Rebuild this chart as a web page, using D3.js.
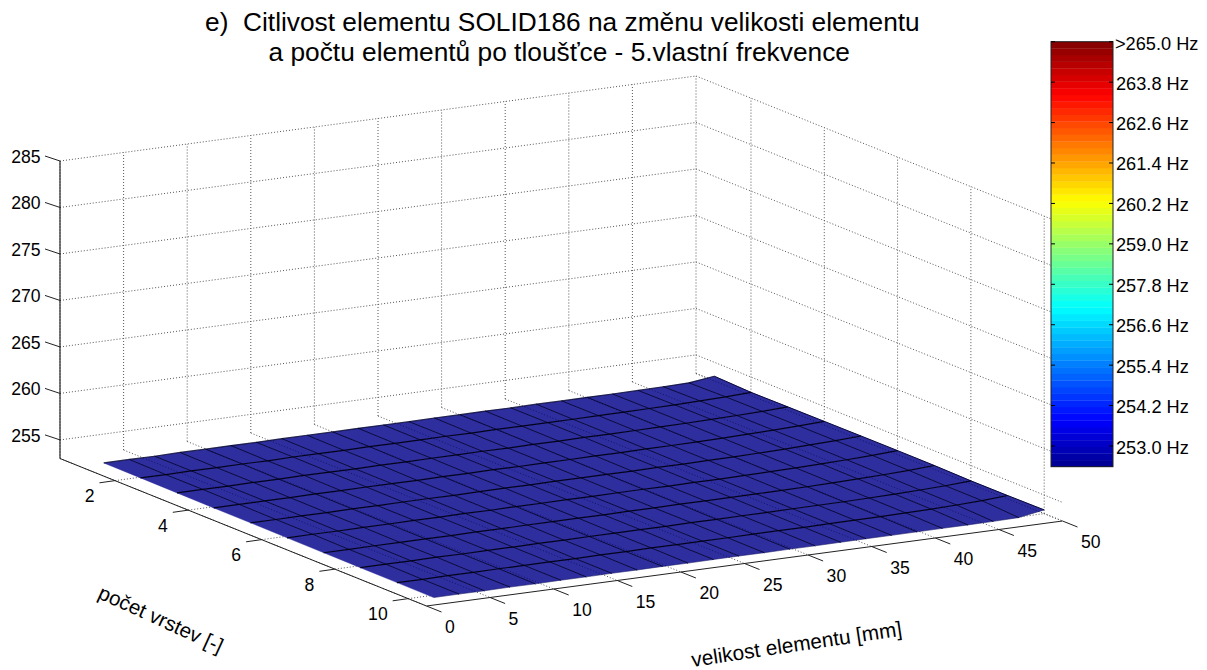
<!DOCTYPE html>
<html><head><meta charset="utf-8">
<script src="https://cdn.jsdelivr.net/npm/d3@7/dist/d3.min.js"></script>
<style>html,body{margin:0;padding:0;background:#fff}svg{display:block}text{font-family:"Liberation Sans",Arial,sans-serif;fill:#000;white-space:pre}</style>
</head><body><svg id="c" width="1207" height="670"></svg>
<script>
const titleLines = ["e)  Citlivost elementu SOLID186 na změnu velikosti elementu", "a počtu elementů po tloušťce - 5.vlastní frekvence"];
const xLabel = "velikost elementu [mm]";
const yLabel = "počet vrstev [-]";
const xTicks = [0,5,10,15,20,25,30,35,40,45,50];
const yTicks = [2,4,6,8,10];
const zTicks = [255,260,265,270,275,280,285];
const cbTicks = [253.0,254.2,255.4,256.6,257.8,259.0,260.2,261.4,262.6,263.8,265.0];
const xValues = [2,4,6,8,10,12,14,16,18,20,22,24,26,28,30,32,34,36,38,40,42,44,46,48,50];
const yValues = [1,2,3,4,5,6,7,8,9,10];
const zRows = [
 [252.95,252.96,252.94,252.98,252.97,252.99,252.97,253.00,253.00,252.99,253.02,253.01,253.00,253.03,253.02,253.04,253.02,253.05,253.04,253.06,253.05,253.07,253.10,253.16,253.50],
 [252.93,252.91,252.95,252.94,252.96,252.94,252.98,252.97,252.96,253.00,252.98,253.00,253.02,252.99,253.02,253.01,253.03,253.02,253.05,253.06,253.08,253.11,253.16,253.24,253.35],
 [252.90,252.92,252.90,252.93,252.91,252.95,252.94,252.93,252.97,252.95,252.97,252.96,252.99,252.97,253.00,252.99,253.02,253.01,253.03,253.05,253.08,253.12,253.18,253.26,253.38],
 [252.87,252.89,252.90,252.88,252.91,252.90,252.93,252.92,252.91,252.95,252.93,252.96,252.94,252.97,252.96,252.98,252.97,253.00,253.00,253.03,253.07,253.12,253.19,253.28,253.40],
 [252.86,252.85,252.88,252.86,252.89,252.87,252.90,252.91,252.89,252.92,252.93,252.91,252.95,252.93,252.95,252.94,252.97,252.96,252.99,253.01,253.05,253.11,253.19,253.29,253.42],
 [252.83,252.85,252.83,252.86,252.85,252.87,252.86,252.89,252.87,252.90,252.89,252.92,252.90,252.92,252.93,252.91,252.95,252.93,252.96,252.99,253.03,253.10,253.18,253.29,253.43],
 [252.81,252.80,252.83,252.82,252.84,252.83,252.86,252.84,252.87,252.86,252.88,252.87,252.90,252.88,252.91,252.90,252.92,252.93,252.94,252.96,253.01,253.07,253.15,253.26,253.42],
 [252.79,252.80,252.79,252.82,252.80,252.83,252.81,252.84,252.83,252.85,252.84,252.87,252.85,252.88,252.87,252.89,252.88,252.91,252.92,252.93,252.97,253.03,253.10,253.19,253.35],
 [252.77,252.76,252.79,252.77,252.80,252.79,252.81,252.80,252.83,252.81,252.84,252.83,252.85,252.84,252.86,252.87,252.86,252.89,252.90,252.92,252.95,253.00,253.07,253.17,253.36],
 [252.75,252.76,252.75,252.78,252.76,252.79,252.78,252.80,252.79,252.81,252.80,252.82,252.83,252.82,252.84,252.83,252.85,252.86,252.86,252.87,252.88,252.88,252.90,252.94,253.40]
];
const jetStops = ["#00008f","#0000ff","#00ffff","#ffff00","#ff0000","#800000"];
const jetPositions = [0,0.109,0.375,0.625,0.875,1];
const surfaceColor = "#2e2e9f";

const svg = d3.select("#c");
// orthographic projection expressed as linear scales per axis
const xPX = d3.scaleLinear().domain([0,50]).range([0,636]);
const xPY = d3.scaleLinear().domain([0,50]).range([0,-85]);
const yPX = d3.scaleLinear().domain([0.5,10.5]).range([0,366.5]);
const yPY = d3.scaleLinear().domain([0.5,10.5]).range([0,147.5]);
const zPY = d3.scaleLinear().domain([253,285]).range([0,-297.5]);
const origin = [60,458.5];
const P = (x,y,z) => [origin[0]+xPX(x)+yPX(y), origin[1]+xPY(x)+yPY(y)+zPY(z)];
const line = d3.line();
const xMin=0,xMax=50,yMin=.5,yMax=10.5,zMin=253,zMax=285;
const seg = (g,a,b,attrs) => { const p=g.append("path").attr("d",line([a,b])).attr("fill","none"); Object.entries(attrs).forEach(([k,v])=>p.attr(k,v)); return p; };

const dotted = {stroke:"#555","stroke-width":1,"stroke-dasharray":"1 2"};
const grid = svg.append("g");
xTicks.forEach(x=>{
  seg(grid,P(x,yMin,zMin),P(x,yMin,zMax),dotted);
  seg(grid,P(x,yMin,zMin),P(x,yMax,zMin),dotted);
});
yTicks.forEach(y=>{
  seg(grid,P(xMax,y,zMin),P(xMax,y,zMax),dotted);
  seg(grid,P(xMin,y,zMin),P(xMax,y,zMin),dotted);
});
seg(grid,P(xMax,yMin,zMin),P(xMax,yMax,zMin),dotted);
zTicks.forEach(z=>{
  seg(grid,P(xMin,yMin,z),P(xMax,yMin,z),dotted);
  seg(grid,P(xMax,yMin,z),P(xMax,yMax,z),dotted);
});

// axes
const ax = svg.append("g");
const axisStyle = {stroke:"#222","stroke-width":1};
seg(ax,P(xMin,yMin,zMin),P(xMin,yMin,zMax),{stroke:"#000","stroke-width":1});
seg(ax,P(xMin,yMin,zMin),P(xMin,yMax,zMin),axisStyle);
seg(ax,P(xMin,yMax,zMin),P(xMax,yMax,zMin),axisStyle);
const fs = 17.6;
xTicks.forEach(x=>{
  const a=P(x,yMax,zMin);
  seg(ax,a,[a[0]+15,a[1]+6],axisStyle);
  ax.append("text").attr("x",a[0]+18.5).attr("y",a[1]+27).attr("font-size",fs).text(x);
});
yTicks.forEach(y=>{
  const a=P(xMin,y,zMin);
  seg(ax,a,[a[0]-15.5,a[1]+2.2],axisStyle);
  ax.append("text").attr("x",a[0]-20.5).attr("y",a[1]+21.5).attr("text-anchor","end").attr("font-size",fs).text(y);
});
zTicks.forEach(z=>{
  const a=P(xMin,yMin,z);
  seg(ax,a,[a[0]-15,a[1]-5],axisStyle);
  ax.append("text").attr("x",40.5).attr("y",a[1]+1.8).attr("text-anchor","end").attr("font-size",fs).text(z);
});

// surface
const surf = svg.append("g");
const cells=[];
for(let j=0;j<yValues.length-1;j++) for(let i=xValues.length-2;i>=0;i--) cells.push([i,j]);
const Z=(i,j)=>P(xValues[i],yValues[j],zRows[j][i]);
surf.selectAll("path.cell").data(cells).join("path").attr("class","cell")
  .attr("d",([i,j])=>line([Z(i,j),Z(i+1,j),Z(i+1,j+1),Z(i,j+1)])+"Z")
  .attr("fill",surfaceColor).attr("stroke",surfaceColor).attr("stroke-width",.4);
// floor gridlines show through the nearly coplanar surface
const outline=[...xValues.map((_,i)=>Z(i,0)),...yValues.map((_,j)=>Z(xValues.length-1,j)),...xValues.map((_,i)=>Z(xValues.length-1-i,yValues.length-1)),...yValues.map((_,j)=>Z(0,yValues.length-1-j))];
svg.append("clipPath").attr("id","sc").append("path").attr("d",line(outline)+"Z");
const through=svg.append("g").attr("clip-path","url(#sc)");
xTicks.forEach(x=>seg(through,P(x,yMin,zMin),P(x,yMax,zMin),{stroke:"#14146e","stroke-width":1,"stroke-dasharray":"1 2"}));
// mesh lines
const mesh=svg.append("g");
xValues.forEach((x,i)=>{ if(i===0) return;
  mesh.append("path").attr("d",line(yValues.map((y,j)=>Z(i,j)))).attr("fill","none")
    .attr("stroke","#08083a").attr("stroke-width",1);
});
yValues.forEach((y,j)=>{
  mesh.append("path").attr("d",line(xValues.map((x,i)=>Z(i,j)))).attr("fill","none")
    .attr("stroke","#02021c").attr("stroke-width",j===9?.5:1.2).attr("stroke-opacity",j===9?.5:(j===0?.7:1));
});

// title & axis labels
titleLines.forEach((t,k)=>svg.append("text").attr("x",[205,268.5][k]).attr("y",[31,60.5][k]).attr("font-size",26.3).text(t));
svg.append("text").attr("transform","translate(796.5,644) rotate(-8.5)").attr("text-anchor","middle").attr("dy","0.35em").attr("font-size",20.8).text(xLabel);
svg.append("text").attr("transform","translate(161,619) rotate(24.5)").attr("text-anchor","middle").attr("dy","0.35em").attr("font-size",20.5).text(yLabel);

// colorbar
const cb=svg.append("g");
const cbY=d3.scaleLinear().domain([252.386,265]).range([466.7,41.7]);
const jet=d3.scaleLinear().domain(jetPositions).range(jetStops).interpolate(d3.interpolateRgb);
const nBands=64, bands=d3.range(nBands);
const bh=(cbY.range()[0]-cbY.range()[1])/nBands;
cb.selectAll("rect").data(bands).join("rect").attr("x",1051).attr("width",62)
  .attr("y",d=>cbY.range()[0]-(d+1)*bh).attr("height",bh+.3)
  .attr("fill",d=>jet((d+.5)/nBands));
cb.append("rect").attr("x",1051).attr("y",41.7).attr("width",62).attr("height",425).attr("fill","none").attr("stroke","#222").attr("stroke-width",1);
cbTicks.forEach(v=>{
  const y=cbY(v);
  seg(cb,[1051,y],[1055,y],{stroke:"#000","stroke-width":1});
  seg(cb,[1109,y],[1113,y],{stroke:"#000","stroke-width":1});
  const label=(v===265?">":"")+v.toFixed(1)+" Hz";
  cb.append("text").attr("x",v===265?1115:1116).attr("y",y+(v===265?8.5:7.5)).attr("font-size",18.2).text(label);
});
</script></body></html>
